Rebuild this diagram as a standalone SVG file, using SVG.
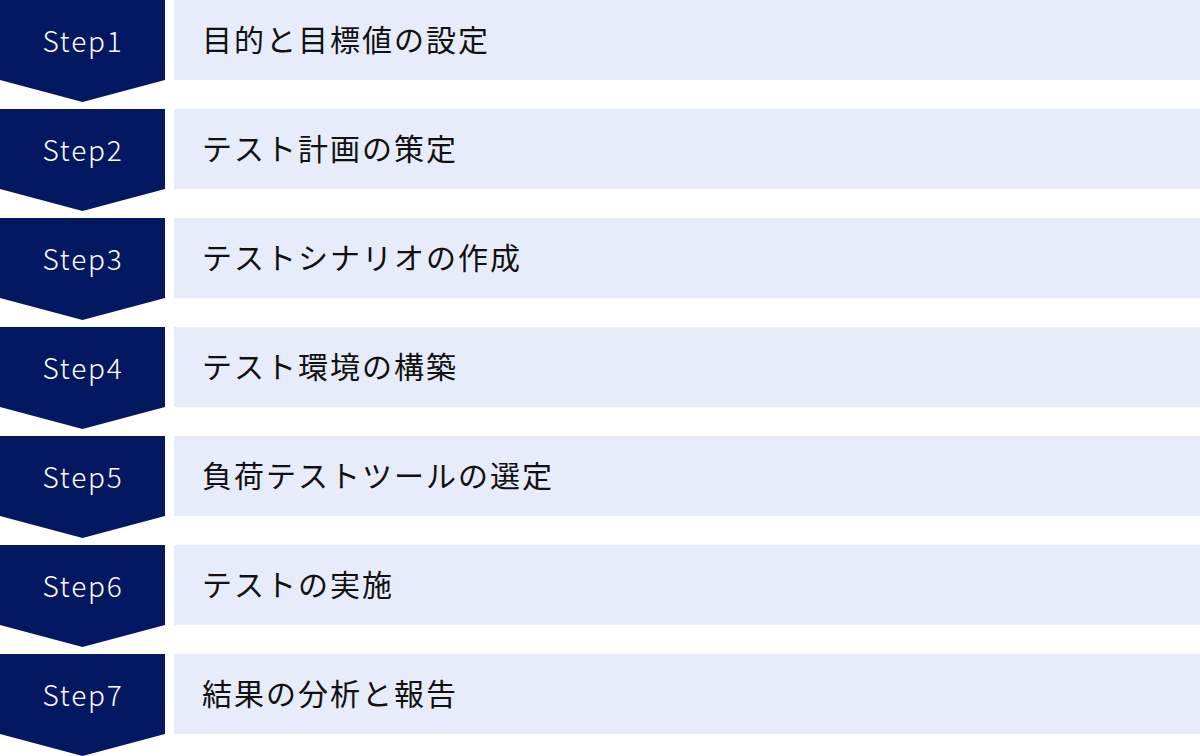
<svg xmlns="http://www.w3.org/2000/svg" width="1200" height="756" viewBox="0 0 1200 756">
<defs>
<style>
.chev{fill:#041862}
.bar{fill:#E6ECF9}
.step{font-family:"Noto Sans CJK JP","Noto Sans",sans-serif;font-size:28px;font-weight:300;fill:#FFFFFF;text-anchor:middle;letter-spacing:1.8px}
.lbl{font-family:"Noto Sans CJK JP",sans-serif;font-size:30px;font-weight:400;fill:#111111;letter-spacing:2px}
</style>
<path id="chevshape" d="M0 0H165V80L82.5 102L0 80Z"/>
</defs>
<rect width="1200" height="756" fill="#FFFFFF"/>
<g id="step1" transform="translate(0,0)">
<use href="#chevshape" class="chev"/><rect class="bar" x="174" y="0" width="1026" height="80"/>
<text class="step" x="83" y="52">Step1</text><text class="lbl" x="202" y="51">目的と目標値の設定</text>
</g>
<g id="step2" transform="translate(0,109)">
<use href="#chevshape" class="chev"/><rect class="bar" x="174" y="0" width="1026" height="80"/>
<text class="step" x="83" y="52">Step2</text><text class="lbl" x="202" y="51">テスト計画の策定</text>
</g>
<g id="step3" transform="translate(0,218)">
<use href="#chevshape" class="chev"/><rect class="bar" x="174" y="0" width="1026" height="80"/>
<text class="step" x="83" y="52">Step3</text><text class="lbl" x="202" y="51">テストシナリオの作成</text>
</g>
<g id="step4" transform="translate(0,327)">
<use href="#chevshape" class="chev"/><rect class="bar" x="174" y="0" width="1026" height="80"/>
<text class="step" x="83" y="52">Step4</text><text class="lbl" x="202" y="51">テスト環境の構築</text>
</g>
<g id="step5" transform="translate(0,436)">
<use href="#chevshape" class="chev"/><rect class="bar" x="174" y="0" width="1026" height="80"/>
<text class="step" x="83" y="52">Step5</text><text class="lbl" x="202" y="51">負荷テストツールの選定</text>
</g>
<g id="step6" transform="translate(0,545)">
<use href="#chevshape" class="chev"/><rect class="bar" x="174" y="0" width="1026" height="80"/>
<text class="step" x="83" y="52">Step6</text><text class="lbl" x="202" y="51">テストの実施</text>
</g>
<g id="step7" transform="translate(0,654)">
<use href="#chevshape" class="chev"/><rect class="bar" x="174" y="0" width="1026" height="80"/>
<text class="step" x="83" y="52">Step7</text><text class="lbl" x="202" y="51">結果の分析と報告</text>
</g>
<g id="connectors"/>
</svg>
